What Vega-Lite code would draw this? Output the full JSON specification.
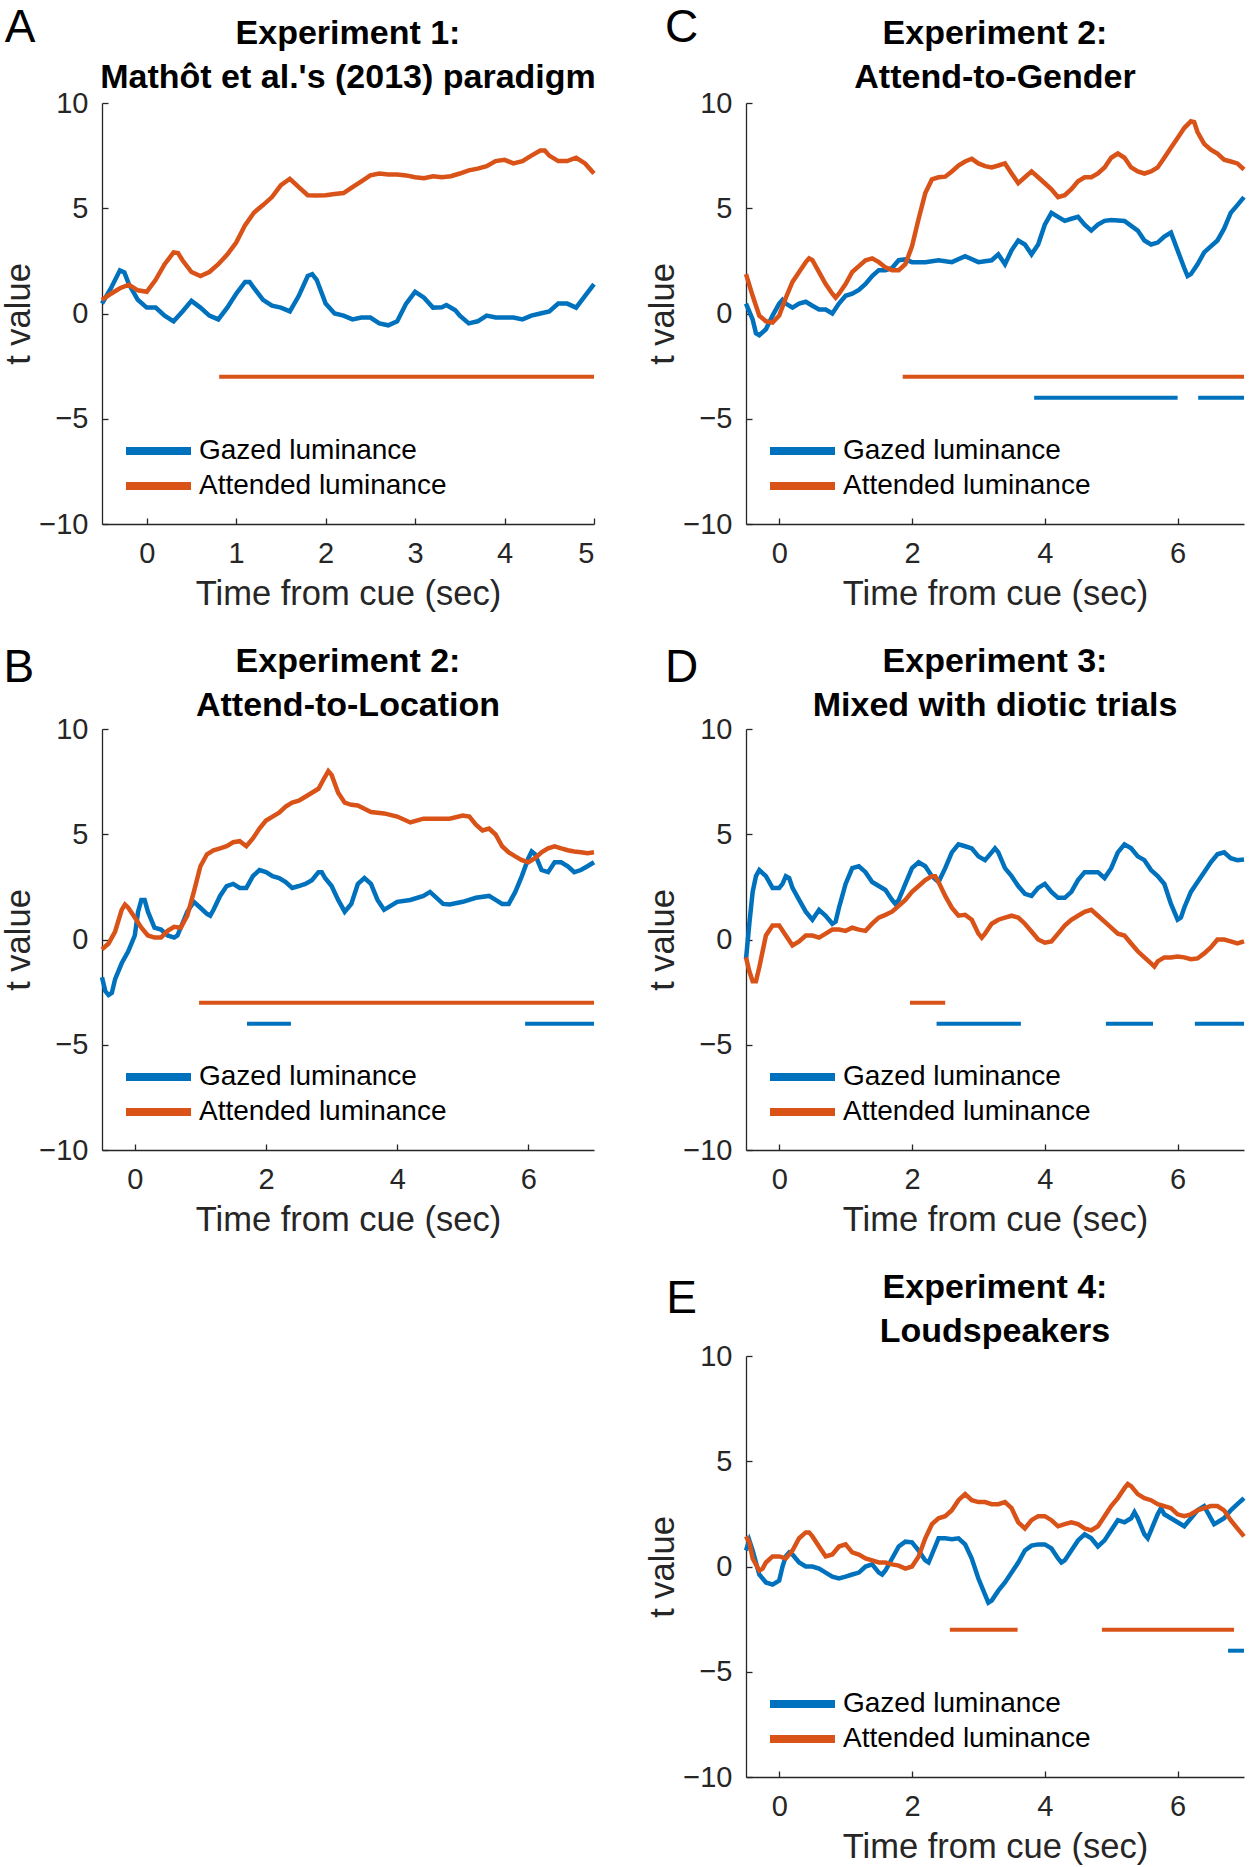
{
  "$schema": "https://vega.github.io/schema/vega-lite/v6.json",
  "padding": {"left": 1, "top": 4, "right": 3, "bottom": 3},
  "background": "white",
  "datasets": {
    "lines": [
      {"panel":"A","series":"Gazed luminance","time":-0.5,"tval":0.47},{"panel":"A","series":"Gazed luminance","time":-0.4,"tval":1.2},{"panel":"A","series":"Gazed luminance","time":-0.3,"tval":2.05},{"panel":"A","series":"Gazed luminance","time":-0.25,"tval":1.95},{"panel":"A","series":"Gazed luminance","time":-0.2,"tval":1.4},{"panel":"A","series":"Gazed luminance","time":-0.1,"tval":0.65},{"panel":"A","series":"Gazed luminance","time":0,"tval":0.28},{"panel":"A","series":"Gazed luminance","time":0.1,"tval":0.28},{"panel":"A","series":"Gazed luminance","time":0.2,"tval":-0.1},{"panel":"A","series":"Gazed luminance","time":0.3,"tval":-0.37},{"panel":"A","series":"Gazed luminance","time":0.4,"tval":0.1},{"panel":"A","series":"Gazed luminance","time":0.5,"tval":0.6},{"panel":"A","series":"Gazed luminance","time":0.6,"tval":0.28},{"panel":"A","series":"Gazed luminance","time":0.7,"tval":-0.1},{"panel":"A","series":"Gazed luminance","time":0.8,"tval":-0.28},{"panel":"A","series":"Gazed luminance","time":0.9,"tval":0.28},{"panel":"A","series":"Gazed luminance","time":1.0,"tval":0.94},{"panel":"A","series":"Gazed luminance","time":1.1,"tval":1.5},{"panel":"A","series":"Gazed luminance","time":1.15,"tval":1.5},{"panel":"A","series":"Gazed luminance","time":1.2,"tval":1.2},{"panel":"A","series":"Gazed luminance","time":1.3,"tval":0.65},{"panel":"A","series":"Gazed luminance","time":1.4,"tval":0.37},{"panel":"A","series":"Gazed luminance","time":1.5,"tval":0.28},{"panel":"A","series":"Gazed luminance","time":1.6,"tval":0.1},{"panel":"A","series":"Gazed luminance","time":1.7,"tval":0.84},{"panel":"A","series":"Gazed luminance","time":1.8,"tval":1.78},{"panel":"A","series":"Gazed luminance","time":1.85,"tval":1.87},{"panel":"A","series":"Gazed luminance","time":1.9,"tval":1.6},{"panel":"A","series":"Gazed luminance","time":2.0,"tval":0.47},{"panel":"A","series":"Gazed luminance","time":2.1,"tval":0},{"panel":"A","series":"Gazed luminance","time":2.2,"tval":-0.1},{"panel":"A","series":"Gazed luminance","time":2.3,"tval":-0.28},{"panel":"A","series":"Gazed luminance","time":2.4,"tval":-0.19},{"panel":"A","series":"Gazed luminance","time":2.5,"tval":-0.19},{"panel":"A","series":"Gazed luminance","time":2.6,"tval":-0.47},{"panel":"A","series":"Gazed luminance","time":2.7,"tval":-0.56},{"panel":"A","series":"Gazed luminance","time":2.8,"tval":-0.37},{"panel":"A","series":"Gazed luminance","time":2.9,"tval":0.47},{"panel":"A","series":"Gazed luminance","time":3.0,"tval":1.03},{"panel":"A","series":"Gazed luminance","time":3.1,"tval":0.75},{"panel":"A","series":"Gazed luminance","time":3.2,"tval":0.28},{"panel":"A","series":"Gazed luminance","time":3.3,"tval":0.3},{"panel":"A","series":"Gazed luminance","time":3.35,"tval":0.4},{"panel":"A","series":"Gazed luminance","time":3.45,"tval":0.15},{"panel":"A","series":"Gazed luminance","time":3.5,"tval":-0.1},{"panel":"A","series":"Gazed luminance","time":3.6,"tval":-0.47},{"panel":"A","series":"Gazed luminance","time":3.7,"tval":-0.37},{"panel":"A","series":"Gazed luminance","time":3.8,"tval":-0.1},{"panel":"A","series":"Gazed luminance","time":3.9,"tval":-0.19},{"panel":"A","series":"Gazed luminance","time":4.0,"tval":-0.19},{"panel":"A","series":"Gazed luminance","time":4.1,"tval":-0.19},{"panel":"A","series":"Gazed luminance","time":4.2,"tval":-0.28},{"panel":"A","series":"Gazed luminance","time":4.3,"tval":-0.1},{"panel":"A","series":"Gazed luminance","time":4.4,"tval":0},{"panel":"A","series":"Gazed luminance","time":4.5,"tval":0.1},{"panel":"A","series":"Gazed luminance","time":4.6,"tval":0.47},{"panel":"A","series":"Gazed luminance","time":4.7,"tval":0.47},{"panel":"A","series":"Gazed luminance","time":4.8,"tval":0.28},{"panel":"A","series":"Gazed luminance","time":4.9,"tval":0.84},{"panel":"A","series":"Gazed luminance","time":5.0,"tval":1.4},
      {"panel":"A","series":"Attended luminance","time":-0.5,"tval":0.65},{"panel":"A","series":"Attended luminance","time":-0.4,"tval":0.94},{"panel":"A","series":"Attended luminance","time":-0.3,"tval":1.2},{"panel":"A","series":"Attended luminance","time":-0.2,"tval":1.37},{"panel":"A","series":"Attended luminance","time":-0.1,"tval":1.1},{"panel":"A","series":"Attended luminance","time":0,"tval":1.03},{"panel":"A","series":"Attended luminance","time":0.1,"tval":1.6},{"panel":"A","series":"Attended luminance","time":0.2,"tval":2.34},{"panel":"A","series":"Attended luminance","time":0.3,"tval":2.9},{"panel":"A","series":"Attended luminance","time":0.35,"tval":2.87},{"panel":"A","series":"Attended luminance","time":0.4,"tval":2.53},{"panel":"A","series":"Attended luminance","time":0.5,"tval":1.97},{"panel":"A","series":"Attended luminance","time":0.6,"tval":1.78},{"panel":"A","series":"Attended luminance","time":0.7,"tval":1.97},{"panel":"A","series":"Attended luminance","time":0.8,"tval":2.34},{"panel":"A","series":"Attended luminance","time":0.9,"tval":2.8},{"panel":"A","series":"Attended luminance","time":1.0,"tval":3.37},{"panel":"A","series":"Attended luminance","time":1.1,"tval":4.2},{"panel":"A","series":"Attended luminance","time":1.2,"tval":4.8},{"panel":"A","series":"Attended luminance","time":1.3,"tval":5.15},{"panel":"A","series":"Attended luminance","time":1.4,"tval":5.53},{"panel":"A","series":"Attended luminance","time":1.5,"tval":6.1},{"panel":"A","series":"Attended luminance","time":1.6,"tval":6.4},{"panel":"A","series":"Attended luminance","time":1.7,"tval":6.0},{"panel":"A","series":"Attended luminance","time":1.8,"tval":5.62},{"panel":"A","series":"Attended luminance","time":1.9,"tval":5.6},{"panel":"A","series":"Attended luminance","time":2.0,"tval":5.62},{"panel":"A","series":"Attended luminance","time":2.1,"tval":5.68},{"panel":"A","series":"Attended luminance","time":2.2,"tval":5.72},{"panel":"A","series":"Attended luminance","time":2.3,"tval":6.0},{"panel":"A","series":"Attended luminance","time":2.4,"tval":6.28},{"panel":"A","series":"Attended luminance","time":2.5,"tval":6.56},{"panel":"A","series":"Attended luminance","time":2.6,"tval":6.65},{"panel":"A","series":"Attended luminance","time":2.7,"tval":6.6},{"panel":"A","series":"Attended luminance","time":2.8,"tval":6.6},{"panel":"A","series":"Attended luminance","time":2.9,"tval":6.56},{"panel":"A","series":"Attended luminance","time":3.0,"tval":6.47},{"panel":"A","series":"Attended luminance","time":3.1,"tval":6.43},{"panel":"A","series":"Attended luminance","time":3.2,"tval":6.52},{"panel":"A","series":"Attended luminance","time":3.3,"tval":6.47},{"panel":"A","series":"Attended luminance","time":3.4,"tval":6.52},{"panel":"A","series":"Attended luminance","time":3.5,"tval":6.65},{"panel":"A","series":"Attended luminance","time":3.6,"tval":6.8},{"panel":"A","series":"Attended luminance","time":3.7,"tval":6.88},{"panel":"A","series":"Attended luminance","time":3.8,"tval":7.0},{"panel":"A","series":"Attended luminance","time":3.9,"tval":7.24},{"panel":"A","series":"Attended luminance","time":4.0,"tval":7.3},{"panel":"A","series":"Attended luminance","time":4.1,"tval":7.13},{"panel":"A","series":"Attended luminance","time":4.2,"tval":7.24},{"panel":"A","series":"Attended luminance","time":4.3,"tval":7.5},{"panel":"A","series":"Attended luminance","time":4.4,"tval":7.74},{"panel":"A","series":"Attended luminance","time":4.45,"tval":7.74},{"panel":"A","series":"Attended luminance","time":4.5,"tval":7.5},{"panel":"A","series":"Attended luminance","time":4.6,"tval":7.24},{"panel":"A","series":"Attended luminance","time":4.7,"tval":7.24},{"panel":"A","series":"Attended luminance","time":4.8,"tval":7.4},{"panel":"A","series":"Attended luminance","time":4.9,"tval":7.13},{"panel":"A","series":"Attended luminance","time":5.0,"tval":6.65},

      {"panel":"B","series":"Gazed luminance","time":-0.5,"tval":-1.79},{"panel":"B","series":"Gazed luminance","time":-0.45,"tval":-2.45},{"panel":"B","series":"Gazed luminance","time":-0.4,"tval":-2.64},{"panel":"B","series":"Gazed luminance","time":-0.35,"tval":-2.54},{"panel":"B","series":"Gazed luminance","time":-0.3,"tval":-1.88},{"panel":"B","series":"Gazed luminance","time":-0.2,"tval":-1.13},{"panel":"B","series":"Gazed luminance","time":-0.1,"tval":-0.56},{"panel":"B","series":"Gazed luminance","time":0,"tval":0.19},{"panel":"B","series":"Gazed luminance","time":0.05,"tval":1.32},{"panel":"B","series":"Gazed luminance","time":0.1,"tval":1.88},{"panel":"B","series":"Gazed luminance","time":0.15,"tval":1.88},{"panel":"B","series":"Gazed luminance","time":0.2,"tval":1.32},{"panel":"B","series":"Gazed luminance","time":0.3,"tval":0.56},{"panel":"B","series":"Gazed luminance","time":0.4,"tval":0.47},{"panel":"B","series":"Gazed luminance","time":0.5,"tval":0.19},{"panel":"B","series":"Gazed luminance","time":0.6,"tval":0.09},{"panel":"B","series":"Gazed luminance","time":0.65,"tval":0.19},{"panel":"B","series":"Gazed luminance","time":0.7,"tval":0.56},{"panel":"B","series":"Gazed luminance","time":0.8,"tval":1.32},{"panel":"B","series":"Gazed luminance","time":0.9,"tval":1.79},{"panel":"B","series":"Gazed luminance","time":1.0,"tval":1.51},{"panel":"B","series":"Gazed luminance","time":1.1,"tval":1.22},{"panel":"B","series":"Gazed luminance","time":1.15,"tval":1.13},{"panel":"B","series":"Gazed luminance","time":1.2,"tval":1.41},{"panel":"B","series":"Gazed luminance","time":1.3,"tval":2.07},{"panel":"B","series":"Gazed luminance","time":1.4,"tval":2.54},{"panel":"B","series":"Gazed luminance","time":1.5,"tval":2.64},{"panel":"B","series":"Gazed luminance","time":1.6,"tval":2.45},{"panel":"B","series":"Gazed luminance","time":1.7,"tval":2.45},{"panel":"B","series":"Gazed luminance","time":1.8,"tval":3.01},{"panel":"B","series":"Gazed luminance","time":1.9,"tval":3.3},{"panel":"B","series":"Gazed luminance","time":2.0,"tval":3.2},{"panel":"B","series":"Gazed luminance","time":2.1,"tval":3.01},{"panel":"B","series":"Gazed luminance","time":2.2,"tval":2.92},{"panel":"B","series":"Gazed luminance","time":2.3,"tval":2.73},{"panel":"B","series":"Gazed luminance","time":2.4,"tval":2.45},{"panel":"B","series":"Gazed luminance","time":2.5,"tval":2.54},{"panel":"B","series":"Gazed luminance","time":2.6,"tval":2.64},{"panel":"B","series":"Gazed luminance","time":2.7,"tval":2.82},{"panel":"B","series":"Gazed luminance","time":2.8,"tval":3.2},{"panel":"B","series":"Gazed luminance","time":2.85,"tval":3.2},{"panel":"B","series":"Gazed luminance","time":2.9,"tval":2.92},{"panel":"B","series":"Gazed luminance","time":3.0,"tval":2.54},{"panel":"B","series":"Gazed luminance","time":3.1,"tval":1.88},{"panel":"B","series":"Gazed luminance","time":3.2,"tval":1.32},{"panel":"B","series":"Gazed luminance","time":3.3,"tval":1.69},{"panel":"B","series":"Gazed luminance","time":3.4,"tval":2.64},{"panel":"B","series":"Gazed luminance","time":3.5,"tval":2.92},{"panel":"B","series":"Gazed luminance","time":3.6,"tval":2.64},{"panel":"B","series":"Gazed luminance","time":3.7,"tval":1.88},{"panel":"B","series":"Gazed luminance","time":3.8,"tval":1.41},{"panel":"B","series":"Gazed luminance","time":3.9,"tval":1.6},{"panel":"B","series":"Gazed luminance","time":4.0,"tval":1.79},{"panel":"B","series":"Gazed luminance","time":4.2,"tval":1.88},{"panel":"B","series":"Gazed luminance","time":4.4,"tval":2.07},{"panel":"B","series":"Gazed luminance","time":4.5,"tval":2.26},{"panel":"B","series":"Gazed luminance","time":4.6,"tval":1.98},{"panel":"B","series":"Gazed luminance","time":4.7,"tval":1.69},{"panel":"B","series":"Gazed luminance","time":4.8,"tval":1.66},{"panel":"B","series":"Gazed luminance","time":5.0,"tval":1.79},{"panel":"B","series":"Gazed luminance","time":5.2,"tval":1.98},{"panel":"B","series":"Gazed luminance","time":5.4,"tval":2.07},{"panel":"B","series":"Gazed luminance","time":5.5,"tval":1.88},{"panel":"B","series":"Gazed luminance","time":5.6,"tval":1.69},{"panel":"B","series":"Gazed luminance","time":5.7,"tval":1.69},{"panel":"B","series":"Gazed luminance","time":5.8,"tval":2.26},{"panel":"B","series":"Gazed luminance","time":5.9,"tval":3.01},{"panel":"B","series":"Gazed luminance","time":6.0,"tval":3.86},{"panel":"B","series":"Gazed luminance","time":6.05,"tval":4.18},{"panel":"B","series":"Gazed luminance","time":6.1,"tval":4.05},{"panel":"B","series":"Gazed luminance","time":6.2,"tval":3.3},{"panel":"B","series":"Gazed luminance","time":6.3,"tval":3.2},{"panel":"B","series":"Gazed luminance","time":6.4,"tval":3.67},{"panel":"B","series":"Gazed luminance","time":6.5,"tval":3.67},{"panel":"B","series":"Gazed luminance","time":6.6,"tval":3.48},{"panel":"B","series":"Gazed luminance","time":6.7,"tval":3.2},{"panel":"B","series":"Gazed luminance","time":6.8,"tval":3.3},{"panel":"B","series":"Gazed luminance","time":6.9,"tval":3.48},{"panel":"B","series":"Gazed luminance","time":7.0,"tval":3.67},
      {"panel":"B","series":"Attended luminance","time":-0.5,"tval":-0.47},{"panel":"B","series":"Attended luminance","time":-0.4,"tval":-0.19},{"panel":"B","series":"Attended luminance","time":-0.3,"tval":0.38},{"panel":"B","series":"Attended luminance","time":-0.2,"tval":1.41},{"panel":"B","series":"Attended luminance","time":-0.15,"tval":1.66},{"panel":"B","series":"Attended luminance","time":-0.1,"tval":1.51},{"panel":"B","series":"Attended luminance","time":0,"tval":1.04},{"panel":"B","series":"Attended luminance","time":0.1,"tval":0.56},{"panel":"B","series":"Attended luminance","time":0.2,"tval":0.19},{"panel":"B","series":"Attended luminance","time":0.3,"tval":0.09},{"panel":"B","series":"Attended luminance","time":0.4,"tval":0.09},{"panel":"B","series":"Attended luminance","time":0.5,"tval":0.41},{"panel":"B","series":"Attended luminance","time":0.6,"tval":0.6},{"panel":"B","series":"Attended luminance","time":0.7,"tval":0.56},{"panel":"B","series":"Attended luminance","time":0.8,"tval":1.13},{"panel":"B","series":"Attended luminance","time":0.9,"tval":2.26},{"panel":"B","series":"Attended luminance","time":1.0,"tval":3.48},{"panel":"B","series":"Attended luminance","time":1.1,"tval":4.05},{"panel":"B","series":"Attended luminance","time":1.2,"tval":4.24},{"panel":"B","series":"Attended luminance","time":1.3,"tval":4.33},{"panel":"B","series":"Attended luminance","time":1.4,"tval":4.43},{"panel":"B","series":"Attended luminance","time":1.5,"tval":4.62},{"panel":"B","series":"Attended luminance","time":1.6,"tval":4.67},{"panel":"B","series":"Attended luminance","time":1.7,"tval":4.43},{"panel":"B","series":"Attended luminance","time":1.8,"tval":4.8},{"panel":"B","series":"Attended luminance","time":1.9,"tval":5.27},{"panel":"B","series":"Attended luminance","time":2.0,"tval":5.65},{"panel":"B","series":"Attended luminance","time":2.1,"tval":5.84},{"panel":"B","series":"Attended luminance","time":2.2,"tval":6.03},{"panel":"B","series":"Attended luminance","time":2.3,"tval":6.31},{"panel":"B","series":"Attended luminance","time":2.4,"tval":6.5},{"panel":"B","series":"Attended luminance","time":2.5,"tval":6.59},{"panel":"B","series":"Attended luminance","time":2.6,"tval":6.78},{"panel":"B","series":"Attended luminance","time":2.7,"tval":6.97},{"panel":"B","series":"Attended luminance","time":2.8,"tval":7.16},{"panel":"B","series":"Attended luminance","time":2.9,"tval":7.73},{"panel":"B","series":"Attended luminance","time":2.95,"tval":8.0},{"panel":"B","series":"Attended luminance","time":3.0,"tval":7.82},{"panel":"B","series":"Attended luminance","time":3.1,"tval":6.97},{"panel":"B","series":"Attended luminance","time":3.2,"tval":6.5},{"panel":"B","series":"Attended luminance","time":3.3,"tval":6.4},{"panel":"B","series":"Attended luminance","time":3.4,"tval":6.37},{"panel":"B","series":"Attended luminance","time":3.5,"tval":6.21},{"panel":"B","series":"Attended luminance","time":3.6,"tval":6.06},{"panel":"B","series":"Attended luminance","time":3.8,"tval":5.99},{"panel":"B","series":"Attended luminance","time":4.0,"tval":5.84},{"panel":"B","series":"Attended luminance","time":4.2,"tval":5.56},{"panel":"B","series":"Attended luminance","time":4.4,"tval":5.74},{"panel":"B","series":"Attended luminance","time":4.6,"tval":5.74},{"panel":"B","series":"Attended luminance","time":4.8,"tval":5.74},{"panel":"B","series":"Attended luminance","time":5.0,"tval":5.89},{"panel":"B","series":"Attended luminance","time":5.1,"tval":5.84},{"panel":"B","series":"Attended luminance","time":5.2,"tval":5.46},{"panel":"B","series":"Attended luminance","time":5.3,"tval":5.18},{"panel":"B","series":"Attended luminance","time":5.4,"tval":5.27},{"panel":"B","series":"Attended luminance","time":5.5,"tval":4.99},{"panel":"B","series":"Attended luminance","time":5.6,"tval":4.43},{"panel":"B","series":"Attended luminance","time":5.7,"tval":4.14},{"panel":"B","series":"Attended luminance","time":5.8,"tval":3.95},{"panel":"B","series":"Attended luminance","time":5.9,"tval":3.77},{"panel":"B","series":"Attended luminance","time":6.0,"tval":3.67},{"panel":"B","series":"Attended luminance","time":6.1,"tval":3.86},{"panel":"B","series":"Attended luminance","time":6.2,"tval":4.14},{"panel":"B","series":"Attended luminance","time":6.3,"tval":4.33},{"panel":"B","series":"Attended luminance","time":6.4,"tval":4.43},{"panel":"B","series":"Attended luminance","time":6.5,"tval":4.33},{"panel":"B","series":"Attended luminance","time":6.6,"tval":4.24},{"panel":"B","series":"Attended luminance","time":6.7,"tval":4.18},{"panel":"B","series":"Attended luminance","time":6.8,"tval":4.14},{"panel":"B","series":"Attended luminance","time":6.9,"tval":4.1},{"panel":"B","series":"Attended luminance","time":7.0,"tval":4.14},

      {"panel":"C","series":"Gazed luminance","time":-0.5,"tval":0.47},{"panel":"C","series":"Gazed luminance","time":-0.4,"tval":-0.28},{"panel":"C","series":"Gazed luminance","time":-0.35,"tval":-0.94},{"panel":"C","series":"Gazed luminance","time":-0.3,"tval":-1.03},{"panel":"C","series":"Gazed luminance","time":-0.2,"tval":-0.75},{"panel":"C","series":"Gazed luminance","time":-0.1,"tval":-0.1},{"panel":"C","series":"Gazed luminance","time":0,"tval":0.47},{"panel":"C","series":"Gazed luminance","time":0.05,"tval":0.65},{"panel":"C","series":"Gazed luminance","time":0.1,"tval":0.47},{"panel":"C","series":"Gazed luminance","time":0.2,"tval":0.28},{"panel":"C","series":"Gazed luminance","time":0.3,"tval":0.47},{"panel":"C","series":"Gazed luminance","time":0.4,"tval":0.56},{"panel":"C","series":"Gazed luminance","time":0.5,"tval":0.37},{"panel":"C","series":"Gazed luminance","time":0.6,"tval":0.19},{"panel":"C","series":"Gazed luminance","time":0.7,"tval":0.19},{"panel":"C","series":"Gazed luminance","time":0.8,"tval":0},{"panel":"C","series":"Gazed luminance","time":0.9,"tval":0.47},{"panel":"C","series":"Gazed luminance","time":1.0,"tval":0.84},{"panel":"C","series":"Gazed luminance","time":1.1,"tval":0.94},{"panel":"C","series":"Gazed luminance","time":1.2,"tval":1.12},{"panel":"C","series":"Gazed luminance","time":1.3,"tval":1.4},{"panel":"C","series":"Gazed luminance","time":1.4,"tval":1.78},{"panel":"C","series":"Gazed luminance","time":1.5,"tval":2.06},{"panel":"C","series":"Gazed luminance","time":1.6,"tval":2.06},{"panel":"C","series":"Gazed luminance","time":1.7,"tval":2.16},{"panel":"C","series":"Gazed luminance","time":1.8,"tval":2.53},{"panel":"C","series":"Gazed luminance","time":1.9,"tval":2.57},{"panel":"C","series":"Gazed luminance","time":2.0,"tval":2.44},{"panel":"C","series":"Gazed luminance","time":2.2,"tval":2.44},{"panel":"C","series":"Gazed luminance","time":2.4,"tval":2.53},{"panel":"C","series":"Gazed luminance","time":2.6,"tval":2.44},{"panel":"C","series":"Gazed luminance","time":2.8,"tval":2.72},{"panel":"C","series":"Gazed luminance","time":3.0,"tval":2.44},{"panel":"C","series":"Gazed luminance","time":3.2,"tval":2.53},{"panel":"C","series":"Gazed luminance","time":3.3,"tval":2.81},{"panel":"C","series":"Gazed luminance","time":3.4,"tval":2.34},{"panel":"C","series":"Gazed luminance","time":3.5,"tval":3.0},{"panel":"C","series":"Gazed luminance","time":3.6,"tval":3.47},{"panel":"C","series":"Gazed luminance","time":3.7,"tval":3.28},{"panel":"C","series":"Gazed luminance","time":3.8,"tval":2.81},{"panel":"C","series":"Gazed luminance","time":3.9,"tval":3.28},{"panel":"C","series":"Gazed luminance","time":4.0,"tval":4.22},{"panel":"C","series":"Gazed luminance","time":4.1,"tval":4.78},{"panel":"C","series":"Gazed luminance","time":4.2,"tval":4.59},{"panel":"C","series":"Gazed luminance","time":4.3,"tval":4.4},{"panel":"C","series":"Gazed luminance","time":4.4,"tval":4.5},{"panel":"C","series":"Gazed luminance","time":4.5,"tval":4.59},{"panel":"C","series":"Gazed luminance","time":4.6,"tval":4.22},{"panel":"C","series":"Gazed luminance","time":4.7,"tval":3.94},{"panel":"C","series":"Gazed luminance","time":4.8,"tval":4.22},{"panel":"C","series":"Gazed luminance","time":4.9,"tval":4.4},{"panel":"C","series":"Gazed luminance","time":5.0,"tval":4.44},{"panel":"C","series":"Gazed luminance","time":5.2,"tval":4.4},{"panel":"C","series":"Gazed luminance","time":5.4,"tval":3.94},{"panel":"C","series":"Gazed luminance","time":5.5,"tval":3.47},{"panel":"C","series":"Gazed luminance","time":5.6,"tval":3.28},{"panel":"C","series":"Gazed luminance","time":5.7,"tval":3.37},{"panel":"C","series":"Gazed luminance","time":5.8,"tval":3.65},{"panel":"C","series":"Gazed luminance","time":5.9,"tval":3.84},{"panel":"C","series":"Gazed luminance","time":6.0,"tval":3.0},{"panel":"C","series":"Gazed luminance","time":6.1,"tval":2.16},{"panel":"C","series":"Gazed luminance","time":6.15,"tval":1.78},{"panel":"C","series":"Gazed luminance","time":6.2,"tval":1.87},{"panel":"C","series":"Gazed luminance","time":6.3,"tval":2.34},{"panel":"C","series":"Gazed luminance","time":6.4,"tval":2.9},{"panel":"C","series":"Gazed luminance","time":6.5,"tval":3.19},{"panel":"C","series":"Gazed luminance","time":6.6,"tval":3.47},{"panel":"C","series":"Gazed luminance","time":6.7,"tval":4.03},{"panel":"C","series":"Gazed luminance","time":6.8,"tval":4.78},{"panel":"C","series":"Gazed luminance","time":6.9,"tval":5.15},{"panel":"C","series":"Gazed luminance","time":7.0,"tval":5.53},
      {"panel":"C","series":"Attended luminance","time":-0.5,"tval":1.87},{"panel":"C","series":"Attended luminance","time":-0.4,"tval":0.84},{"panel":"C","series":"Attended luminance","time":-0.3,"tval":-0.1},{"panel":"C","series":"Attended luminance","time":-0.2,"tval":-0.37},{"panel":"C","series":"Attended luminance","time":-0.1,"tval":-0.43},{"panel":"C","series":"Attended luminance","time":0,"tval":-0.1},{"panel":"C","series":"Attended luminance","time":0.1,"tval":0.75},{"panel":"C","series":"Attended luminance","time":0.2,"tval":1.5},{"panel":"C","series":"Attended luminance","time":0.3,"tval":1.97},{"panel":"C","series":"Attended luminance","time":0.4,"tval":2.44},{"panel":"C","series":"Attended luminance","time":0.45,"tval":2.62},{"panel":"C","series":"Attended luminance","time":0.5,"tval":2.53},{"panel":"C","series":"Attended luminance","time":0.6,"tval":1.97},{"panel":"C","series":"Attended luminance","time":0.7,"tval":1.4},{"panel":"C","series":"Attended luminance","time":0.8,"tval":0.94},{"panel":"C","series":"Attended luminance","time":0.85,"tval":0.75},{"panel":"C","series":"Attended luminance","time":0.9,"tval":0.94},{"panel":"C","series":"Attended luminance","time":1.0,"tval":1.4},{"panel":"C","series":"Attended luminance","time":1.1,"tval":1.97},{"panel":"C","series":"Attended luminance","time":1.2,"tval":2.25},{"panel":"C","series":"Attended luminance","time":1.3,"tval":2.53},{"panel":"C","series":"Attended luminance","time":1.4,"tval":2.62},{"panel":"C","series":"Attended luminance","time":1.5,"tval":2.44},{"panel":"C","series":"Attended luminance","time":1.6,"tval":2.19},{"panel":"C","series":"Attended luminance","time":1.7,"tval":2.06},{"panel":"C","series":"Attended luminance","time":1.8,"tval":2.06},{"panel":"C","series":"Attended luminance","time":1.9,"tval":2.34},{"panel":"C","series":"Attended luminance","time":2.0,"tval":3.19},{"panel":"C","series":"Attended luminance","time":2.1,"tval":4.5},{"panel":"C","series":"Attended luminance","time":2.2,"tval":5.72},{"panel":"C","series":"Attended luminance","time":2.3,"tval":6.37},{"panel":"C","series":"Attended luminance","time":2.4,"tval":6.47},{"panel":"C","series":"Attended luminance","time":2.5,"tval":6.5},{"panel":"C","series":"Attended luminance","time":2.6,"tval":6.75},{"panel":"C","series":"Attended luminance","time":2.7,"tval":7.03},{"panel":"C","series":"Attended luminance","time":2.8,"tval":7.22},{"panel":"C","series":"Attended luminance","time":2.9,"tval":7.35},{"panel":"C","series":"Attended luminance","time":3.0,"tval":7.13},{"panel":"C","series":"Attended luminance","time":3.1,"tval":7.0},{"panel":"C","series":"Attended luminance","time":3.2,"tval":6.94},{"panel":"C","series":"Attended luminance","time":3.3,"tval":7.03},{"panel":"C","series":"Attended luminance","time":3.4,"tval":7.13},{"panel":"C","series":"Attended luminance","time":3.5,"tval":6.65},{"panel":"C","series":"Attended luminance","time":3.6,"tval":6.19},{"panel":"C","series":"Attended luminance","time":3.7,"tval":6.47},{"panel":"C","series":"Attended luminance","time":3.8,"tval":6.75},{"panel":"C","series":"Attended luminance","time":3.9,"tval":6.47},{"panel":"C","series":"Attended luminance","time":4.0,"tval":6.19},{"panel":"C","series":"Attended luminance","time":4.1,"tval":5.9},{"panel":"C","series":"Attended luminance","time":4.2,"tval":5.53},{"panel":"C","series":"Attended luminance","time":4.3,"tval":5.62},{"panel":"C","series":"Attended luminance","time":4.4,"tval":5.9},{"panel":"C","series":"Attended luminance","time":4.5,"tval":6.28},{"panel":"C","series":"Attended luminance","time":4.6,"tval":6.47},{"panel":"C","series":"Attended luminance","time":4.7,"tval":6.47},{"panel":"C","series":"Attended luminance","time":4.8,"tval":6.65},{"panel":"C","series":"Attended luminance","time":4.9,"tval":6.94},{"panel":"C","series":"Attended luminance","time":5.0,"tval":7.4},{"panel":"C","series":"Attended luminance","time":5.1,"tval":7.6},{"panel":"C","series":"Attended luminance","time":5.2,"tval":7.4},{"panel":"C","series":"Attended luminance","time":5.3,"tval":6.94},{"panel":"C","series":"Attended luminance","time":5.4,"tval":6.75},{"panel":"C","series":"Attended luminance","time":5.5,"tval":6.65},{"panel":"C","series":"Attended luminance","time":5.6,"tval":6.75},{"panel":"C","series":"Attended luminance","time":5.7,"tval":6.94},{"panel":"C","series":"Attended luminance","time":5.8,"tval":7.4},{"panel":"C","series":"Attended luminance","time":5.9,"tval":7.87},{"panel":"C","series":"Attended luminance","time":6.0,"tval":8.34},{"panel":"C","series":"Attended luminance","time":6.1,"tval":8.81},{"panel":"C","series":"Attended luminance","time":6.2,"tval":9.13},{"panel":"C","series":"Attended luminance","time":6.25,"tval":9.09},{"panel":"C","series":"Attended luminance","time":6.3,"tval":8.62},{"panel":"C","series":"Attended luminance","time":6.4,"tval":8.06},{"panel":"C","series":"Attended luminance","time":6.5,"tval":7.78},{"panel":"C","series":"Attended luminance","time":6.6,"tval":7.6},{"panel":"C","series":"Attended luminance","time":6.7,"tval":7.31},{"panel":"C","series":"Attended luminance","time":6.8,"tval":7.22},{"panel":"C","series":"Attended luminance","time":6.9,"tval":7.13},{"panel":"C","series":"Attended luminance","time":7.0,"tval":6.84},

      {"panel":"D","series":"Gazed luminance","time":-0.5,"tval":-0.94},{"panel":"D","series":"Gazed luminance","time":-0.45,"tval":0.75},{"panel":"D","series":"Gazed luminance","time":-0.4,"tval":2.26},{"panel":"D","series":"Gazed luminance","time":-0.35,"tval":3.01},{"panel":"D","series":"Gazed luminance","time":-0.3,"tval":3.3},{"panel":"D","series":"Gazed luminance","time":-0.2,"tval":3.01},{"panel":"D","series":"Gazed luminance","time":-0.1,"tval":2.45},{"panel":"D","series":"Gazed luminance","time":0,"tval":2.45},{"panel":"D","series":"Gazed luminance","time":0.05,"tval":2.64},{"panel":"D","series":"Gazed luminance","time":0.1,"tval":3.01},{"panel":"D","series":"Gazed luminance","time":0.15,"tval":2.92},{"panel":"D","series":"Gazed luminance","time":0.2,"tval":2.45},{"panel":"D","series":"Gazed luminance","time":0.3,"tval":1.88},{"panel":"D","series":"Gazed luminance","time":0.4,"tval":1.32},{"panel":"D","series":"Gazed luminance","time":0.5,"tval":0.94},{"panel":"D","series":"Gazed luminance","time":0.6,"tval":1.41},{"panel":"D","series":"Gazed luminance","time":0.7,"tval":1.13},{"panel":"D","series":"Gazed luminance","time":0.8,"tval":0.75},{"panel":"D","series":"Gazed luminance","time":0.85,"tval":0.85},{"panel":"D","series":"Gazed luminance","time":0.9,"tval":1.51},{"panel":"D","series":"Gazed luminance","time":1.0,"tval":2.64},{"panel":"D","series":"Gazed luminance","time":1.1,"tval":3.39},{"panel":"D","series":"Gazed luminance","time":1.2,"tval":3.48},{"panel":"D","series":"Gazed luminance","time":1.3,"tval":3.2},{"panel":"D","series":"Gazed luminance","time":1.4,"tval":2.73},{"panel":"D","series":"Gazed luminance","time":1.5,"tval":2.54},{"panel":"D","series":"Gazed luminance","time":1.6,"tval":2.35},{"panel":"D","series":"Gazed luminance","time":1.7,"tval":1.88},{"panel":"D","series":"Gazed luminance","time":1.75,"tval":1.69},{"panel":"D","series":"Gazed luminance","time":1.8,"tval":1.88},{"panel":"D","series":"Gazed luminance","time":1.9,"tval":2.64},{"panel":"D","series":"Gazed luminance","time":2.0,"tval":3.39},{"panel":"D","series":"Gazed luminance","time":2.1,"tval":3.67},{"panel":"D","series":"Gazed luminance","time":2.2,"tval":3.48},{"panel":"D","series":"Gazed luminance","time":2.3,"tval":3.01},{"panel":"D","series":"Gazed luminance","time":2.4,"tval":2.73},{"panel":"D","series":"Gazed luminance","time":2.5,"tval":3.39},{"panel":"D","series":"Gazed luminance","time":2.6,"tval":4.14},{"panel":"D","series":"Gazed luminance","time":2.7,"tval":4.52},{"panel":"D","series":"Gazed luminance","time":2.8,"tval":4.43},{"panel":"D","series":"Gazed luminance","time":2.9,"tval":4.33},{"panel":"D","series":"Gazed luminance","time":3.0,"tval":3.95},{"panel":"D","series":"Gazed luminance","time":3.1,"tval":3.77},{"panel":"D","series":"Gazed luminance","time":3.2,"tval":4.14},{"panel":"D","series":"Gazed luminance","time":3.25,"tval":4.33},{"panel":"D","series":"Gazed luminance","time":3.3,"tval":4.14},{"panel":"D","series":"Gazed luminance","time":3.4,"tval":3.39},{"panel":"D","series":"Gazed luminance","time":3.5,"tval":3.01},{"panel":"D","series":"Gazed luminance","time":3.6,"tval":2.54},{"panel":"D","series":"Gazed luminance","time":3.7,"tval":2.17},{"panel":"D","series":"Gazed luminance","time":3.8,"tval":2.07},{"panel":"D","series":"Gazed luminance","time":3.9,"tval":2.45},{"panel":"D","series":"Gazed luminance","time":4.0,"tval":2.64},{"panel":"D","series":"Gazed luminance","time":4.1,"tval":2.26},{"panel":"D","series":"Gazed luminance","time":4.2,"tval":1.98},{"panel":"D","series":"Gazed luminance","time":4.3,"tval":1.98},{"panel":"D","series":"Gazed luminance","time":4.4,"tval":2.26},{"panel":"D","series":"Gazed luminance","time":4.5,"tval":2.82},{"panel":"D","series":"Gazed luminance","time":4.6,"tval":3.2},{"panel":"D","series":"Gazed luminance","time":4.7,"tval":3.2},{"panel":"D","series":"Gazed luminance","time":4.8,"tval":3.2},{"panel":"D","series":"Gazed luminance","time":4.9,"tval":2.92},{"panel":"D","series":"Gazed luminance","time":5.0,"tval":3.39},{"panel":"D","series":"Gazed luminance","time":5.1,"tval":4.14},{"panel":"D","series":"Gazed luminance","time":5.2,"tval":4.52},{"panel":"D","series":"Gazed luminance","time":5.3,"tval":4.33},{"panel":"D","series":"Gazed luminance","time":5.4,"tval":3.95},{"panel":"D","series":"Gazed luminance","time":5.5,"tval":3.77},{"panel":"D","series":"Gazed luminance","time":5.6,"tval":3.3},{"panel":"D","series":"Gazed luminance","time":5.7,"tval":3.01},{"panel":"D","series":"Gazed luminance","time":5.8,"tval":2.64},{"panel":"D","series":"Gazed luminance","time":5.9,"tval":1.69},{"panel":"D","series":"Gazed luminance","time":6.0,"tval":0.94},{"panel":"D","series":"Gazed luminance","time":6.05,"tval":1.04},{"panel":"D","series":"Gazed luminance","time":6.1,"tval":1.51},{"panel":"D","series":"Gazed luminance","time":6.2,"tval":2.26},{"panel":"D","series":"Gazed luminance","time":6.3,"tval":2.73},{"panel":"D","series":"Gazed luminance","time":6.4,"tval":3.2},{"panel":"D","series":"Gazed luminance","time":6.5,"tval":3.67},{"panel":"D","series":"Gazed luminance","time":6.6,"tval":4.05},{"panel":"D","series":"Gazed luminance","time":6.7,"tval":4.14},{"panel":"D","series":"Gazed luminance","time":6.8,"tval":3.86},{"panel":"D","series":"Gazed luminance","time":6.9,"tval":3.77},{"panel":"D","series":"Gazed luminance","time":7.0,"tval":3.8},
      {"panel":"D","series":"Attended luminance","time":-0.5,"tval":-0.85},{"panel":"D","series":"Attended luminance","time":-0.45,"tval":-1.51},{"panel":"D","series":"Attended luminance","time":-0.4,"tval":-1.98},{"panel":"D","series":"Attended luminance","time":-0.35,"tval":-1.98},{"panel":"D","series":"Attended luminance","time":-0.3,"tval":-1.32},{"panel":"D","series":"Attended luminance","time":-0.2,"tval":0.19},{"panel":"D","series":"Attended luminance","time":-0.1,"tval":0.66},{"panel":"D","series":"Attended luminance","time":0,"tval":0.66},{"panel":"D","series":"Attended luminance","time":0.1,"tval":0.19},{"panel":"D","series":"Attended luminance","time":0.2,"tval":-0.28},{"panel":"D","series":"Attended luminance","time":0.3,"tval":-0.09},{"panel":"D","series":"Attended luminance","time":0.4,"tval":0.19},{"panel":"D","series":"Attended luminance","time":0.5,"tval":0.19},{"panel":"D","series":"Attended luminance","time":0.6,"tval":0.09},{"panel":"D","series":"Attended luminance","time":0.7,"tval":0.28},{"panel":"D","series":"Attended luminance","time":0.8,"tval":0.47},{"panel":"D","series":"Attended luminance","time":0.9,"tval":0.47},{"panel":"D","series":"Attended luminance","time":1.0,"tval":0.41},{"panel":"D","series":"Attended luminance","time":1.1,"tval":0.56},{"panel":"D","series":"Attended luminance","time":1.2,"tval":0.47},{"panel":"D","series":"Attended luminance","time":1.3,"tval":0.41},{"panel":"D","series":"Attended luminance","time":1.4,"tval":0.75},{"panel":"D","series":"Attended luminance","time":1.5,"tval":1.04},{"panel":"D","series":"Attended luminance","time":1.6,"tval":1.17},{"panel":"D","series":"Attended luminance","time":1.7,"tval":1.32},{"panel":"D","series":"Attended luminance","time":1.8,"tval":1.6},{"panel":"D","series":"Attended luminance","time":1.9,"tval":1.88},{"panel":"D","series":"Attended luminance","time":2.0,"tval":2.26},{"panel":"D","series":"Attended luminance","time":2.1,"tval":2.54},{"panel":"D","series":"Attended luminance","time":2.2,"tval":2.82},{"panel":"D","series":"Attended luminance","time":2.3,"tval":3.01},{"panel":"D","series":"Attended luminance","time":2.35,"tval":3.01},{"panel":"D","series":"Attended luminance","time":2.4,"tval":2.73},{"panel":"D","series":"Attended luminance","time":2.5,"tval":2.07},{"panel":"D","series":"Attended luminance","time":2.6,"tval":1.51},{"panel":"D","series":"Attended luminance","time":2.7,"tval":1.13},{"panel":"D","series":"Attended luminance","time":2.8,"tval":1.17},{"panel":"D","series":"Attended luminance","time":2.9,"tval":0.94},{"panel":"D","series":"Attended luminance","time":3.0,"tval":0.28},{"panel":"D","series":"Attended luminance","time":3.05,"tval":0.09},{"panel":"D","series":"Attended luminance","time":3.1,"tval":0.28},{"panel":"D","series":"Attended luminance","time":3.2,"tval":0.75},{"panel":"D","series":"Attended luminance","time":3.3,"tval":0.94},{"panel":"D","series":"Attended luminance","time":3.4,"tval":1.04},{"panel":"D","series":"Attended luminance","time":3.5,"tval":1.13},{"panel":"D","series":"Attended luminance","time":3.6,"tval":1.04},{"panel":"D","series":"Attended luminance","time":3.7,"tval":0.75},{"panel":"D","series":"Attended luminance","time":3.8,"tval":0.38},{"panel":"D","series":"Attended luminance","time":3.9,"tval":0},{"panel":"D","series":"Attended luminance","time":4.0,"tval":-0.15},{"panel":"D","series":"Attended luminance","time":4.1,"tval":-0.09},{"panel":"D","series":"Attended luminance","time":4.2,"tval":0.28},{"panel":"D","series":"Attended luminance","time":4.3,"tval":0.66},{"panel":"D","series":"Attended luminance","time":4.4,"tval":0.94},{"panel":"D","series":"Attended luminance","time":4.5,"tval":1.13},{"panel":"D","series":"Attended luminance","time":4.6,"tval":1.32},{"panel":"D","series":"Attended luminance","time":4.7,"tval":1.41},{"panel":"D","series":"Attended luminance","time":4.8,"tval":1.13},{"panel":"D","series":"Attended luminance","time":4.9,"tval":0.85},{"panel":"D","series":"Attended luminance","time":5.0,"tval":0.56},{"panel":"D","series":"Attended luminance","time":5.1,"tval":0.28},{"panel":"D","series":"Attended luminance","time":5.2,"tval":0.19},{"panel":"D","series":"Attended luminance","time":5.3,"tval":-0.19},{"panel":"D","series":"Attended luminance","time":5.4,"tval":-0.56},{"panel":"D","series":"Attended luminance","time":5.5,"tval":-0.85},{"panel":"D","series":"Attended luminance","time":5.6,"tval":-1.13},{"panel":"D","series":"Attended luminance","time":5.65,"tval":-1.28},{"panel":"D","series":"Attended luminance","time":5.7,"tval":-1.04},{"panel":"D","series":"Attended luminance","time":5.8,"tval":-0.85},{"panel":"D","series":"Attended luminance","time":5.9,"tval":-0.85},{"panel":"D","series":"Attended luminance","time":6.0,"tval":-0.81},{"panel":"D","series":"Attended luminance","time":6.1,"tval":-0.85},{"panel":"D","series":"Attended luminance","time":6.2,"tval":-0.94},{"panel":"D","series":"Attended luminance","time":6.3,"tval":-0.9},{"panel":"D","series":"Attended luminance","time":6.4,"tval":-0.66},{"panel":"D","series":"Attended luminance","time":6.5,"tval":-0.38},{"panel":"D","series":"Attended luminance","time":6.6,"tval":0},{"panel":"D","series":"Attended luminance","time":6.7,"tval":0},{"panel":"D","series":"Attended luminance","time":6.8,"tval":-0.09},{"panel":"D","series":"Attended luminance","time":6.9,"tval":-0.19},{"panel":"D","series":"Attended luminance","time":7.0,"tval":-0.09},

      {"panel":"E","series":"Gazed luminance","time":-0.5,"tval":0.76},{"panel":"E","series":"Gazed luminance","time":-0.45,"tval":1.24},{"panel":"E","series":"Gazed luminance","time":-0.4,"tval":0.76},{"panel":"E","series":"Gazed luminance","time":-0.3,"tval":-0.38},{"panel":"E","series":"Gazed luminance","time":-0.2,"tval":-0.76},{"panel":"E","series":"Gazed luminance","time":-0.1,"tval":-0.86},{"panel":"E","series":"Gazed luminance","time":0,"tval":-0.67},{"panel":"E","series":"Gazed luminance","time":0.05,"tval":0},{"panel":"E","series":"Gazed luminance","time":0.1,"tval":0.48},{"panel":"E","series":"Gazed luminance","time":0.15,"tval":0.67},{"panel":"E","series":"Gazed luminance","time":0.2,"tval":0.57},{"panel":"E","series":"Gazed luminance","time":0.3,"tval":0.19},{"panel":"E","series":"Gazed luminance","time":0.4,"tval":0},{"panel":"E","series":"Gazed luminance","time":0.5,"tval":0},{"panel":"E","series":"Gazed luminance","time":0.6,"tval":-0.1},{"panel":"E","series":"Gazed luminance","time":0.7,"tval":-0.29},{"panel":"E","series":"Gazed luminance","time":0.8,"tval":-0.48},{"panel":"E","series":"Gazed luminance","time":0.9,"tval":-0.57},{"panel":"E","series":"Gazed luminance","time":1.0,"tval":-0.48},{"panel":"E","series":"Gazed luminance","time":1.1,"tval":-0.38},{"panel":"E","series":"Gazed luminance","time":1.2,"tval":-0.29},{"panel":"E","series":"Gazed luminance","time":1.3,"tval":0},{"panel":"E","series":"Gazed luminance","time":1.4,"tval":0.1},{"panel":"E","series":"Gazed luminance","time":1.5,"tval":-0.29},{"panel":"E","series":"Gazed luminance","time":1.55,"tval":-0.38},{"panel":"E","series":"Gazed luminance","time":1.6,"tval":-0.19},{"panel":"E","series":"Gazed luminance","time":1.7,"tval":0.38},{"panel":"E","series":"Gazed luminance","time":1.8,"tval":0.95},{"panel":"E","series":"Gazed luminance","time":1.9,"tval":1.18},{"panel":"E","series":"Gazed luminance","time":2.0,"tval":1.15},{"panel":"E","series":"Gazed luminance","time":2.1,"tval":0.76},{"panel":"E","series":"Gazed luminance","time":2.2,"tval":0.29},{"panel":"E","series":"Gazed luminance","time":2.25,"tval":0.19},{"panel":"E","series":"Gazed luminance","time":2.3,"tval":0.57},{"panel":"E","series":"Gazed luminance","time":2.4,"tval":1.34},{"panel":"E","series":"Gazed luminance","time":2.5,"tval":1.34},{"panel":"E","series":"Gazed luminance","time":2.6,"tval":1.3},{"panel":"E","series":"Gazed luminance","time":2.7,"tval":1.34},{"panel":"E","series":"Gazed luminance","time":2.8,"tval":1.05},{"panel":"E","series":"Gazed luminance","time":2.9,"tval":0.38},{"panel":"E","series":"Gazed luminance","time":3.0,"tval":-0.57},{"panel":"E","series":"Gazed luminance","time":3.1,"tval":-1.34},{"panel":"E","series":"Gazed luminance","time":3.15,"tval":-1.72},{"panel":"E","series":"Gazed luminance","time":3.2,"tval":-1.62},{"panel":"E","series":"Gazed luminance","time":3.3,"tval":-1.15},{"panel":"E","series":"Gazed luminance","time":3.4,"tval":-0.76},{"panel":"E","series":"Gazed luminance","time":3.5,"tval":-0.29},{"panel":"E","series":"Gazed luminance","time":3.6,"tval":0.19},{"panel":"E","series":"Gazed luminance","time":3.7,"tval":0.76},{"panel":"E","series":"Gazed luminance","time":3.8,"tval":0.99},{"panel":"E","series":"Gazed luminance","time":3.9,"tval":1.05},{"panel":"E","series":"Gazed luminance","time":4.0,"tval":1.05},{"panel":"E","series":"Gazed luminance","time":4.1,"tval":0.86},{"panel":"E","series":"Gazed luminance","time":4.2,"tval":0.38},{"panel":"E","series":"Gazed luminance","time":4.25,"tval":0.19},{"panel":"E","series":"Gazed luminance","time":4.3,"tval":0.29},{"panel":"E","series":"Gazed luminance","time":4.4,"tval":0.76},{"panel":"E","series":"Gazed luminance","time":4.5,"tval":1.24},{"panel":"E","series":"Gazed luminance","time":4.6,"tval":1.53},{"panel":"E","series":"Gazed luminance","time":4.7,"tval":1.34},{"panel":"E","series":"Gazed luminance","time":4.8,"tval":0.95},{"panel":"E","series":"Gazed luminance","time":4.9,"tval":1.24},{"panel":"E","series":"Gazed luminance","time":5.0,"tval":1.72},{"panel":"E","series":"Gazed luminance","time":5.1,"tval":2.2},{"panel":"E","series":"Gazed luminance","time":5.2,"tval":2.1},{"panel":"E","series":"Gazed luminance","time":5.3,"tval":2.29},{"panel":"E","series":"Gazed luminance","time":5.35,"tval":2.58},{"panel":"E","series":"Gazed luminance","time":5.4,"tval":2.29},{"panel":"E","series":"Gazed luminance","time":5.5,"tval":1.53},{"panel":"E","series":"Gazed luminance","time":5.55,"tval":1.34},{"panel":"E","series":"Gazed luminance","time":5.6,"tval":1.72},{"panel":"E","series":"Gazed luminance","time":5.7,"tval":2.48},{"panel":"E","series":"Gazed luminance","time":5.75,"tval":2.77},{"panel":"E","series":"Gazed luminance","time":5.8,"tval":2.48},{"panel":"E","series":"Gazed luminance","time":5.9,"tval":2.29},{"panel":"E","series":"Gazed luminance","time":6.0,"tval":2.1},{"panel":"E","series":"Gazed luminance","time":6.1,"tval":1.91},{"panel":"E","series":"Gazed luminance","time":6.2,"tval":2.29},{"panel":"E","series":"Gazed luminance","time":6.3,"tval":2.67},{"panel":"E","series":"Gazed luminance","time":6.4,"tval":2.87},{"panel":"E","series":"Gazed luminance","time":6.5,"tval":2.29},{"panel":"E","series":"Gazed luminance","time":6.55,"tval":2.01},{"panel":"E","series":"Gazed luminance","time":6.6,"tval":2.1},{"panel":"E","series":"Gazed luminance","time":6.7,"tval":2.29},{"panel":"E","series":"Gazed luminance","time":6.8,"tval":2.67},{"panel":"E","series":"Gazed luminance","time":6.9,"tval":2.96},{"panel":"E","series":"Gazed luminance","time":7.0,"tval":3.25},
      {"panel":"E","series":"Attended luminance","time":-0.5,"tval":1.43},{"panel":"E","series":"Attended luminance","time":-0.45,"tval":1.15},{"panel":"E","series":"Attended luminance","time":-0.4,"tval":0.38},{"panel":"E","series":"Attended luminance","time":-0.3,"tval":-0.19},{"panel":"E","series":"Attended luminance","time":-0.25,"tval":-0.1},{"panel":"E","series":"Attended luminance","time":-0.2,"tval":0.19},{"panel":"E","series":"Attended luminance","time":-0.1,"tval":0.48},{"panel":"E","series":"Attended luminance","time":0,"tval":0.48},{"panel":"E","series":"Attended luminance","time":0.1,"tval":0.38},{"panel":"E","series":"Attended luminance","time":0.2,"tval":0.76},{"panel":"E","series":"Attended luminance","time":0.3,"tval":1.34},{"panel":"E","series":"Attended luminance","time":0.4,"tval":1.62},{"panel":"E","series":"Attended luminance","time":0.45,"tval":1.62},{"panel":"E","series":"Attended luminance","time":0.5,"tval":1.43},{"panel":"E","series":"Attended luminance","time":0.6,"tval":0.95},{"panel":"E","series":"Attended luminance","time":0.7,"tval":0.48},{"panel":"E","series":"Attended luminance","time":0.8,"tval":0.57},{"panel":"E","series":"Attended luminance","time":0.9,"tval":0.95},{"panel":"E","series":"Attended luminance","time":1.0,"tval":1.05},{"panel":"E","series":"Attended luminance","time":1.1,"tval":0.67},{"panel":"E","series":"Attended luminance","time":1.2,"tval":0.57},{"panel":"E","series":"Attended luminance","time":1.3,"tval":0.38},{"panel":"E","series":"Attended luminance","time":1.4,"tval":0.29},{"panel":"E","series":"Attended luminance","time":1.5,"tval":0.19},{"panel":"E","series":"Attended luminance","time":1.6,"tval":0.19},{"panel":"E","series":"Attended luminance","time":1.7,"tval":0.1},{"panel":"E","series":"Attended luminance","time":1.8,"tval":0.04},{"panel":"E","series":"Attended luminance","time":1.9,"tval":-0.1},{"panel":"E","series":"Attended luminance","time":2.0,"tval":0},{"panel":"E","series":"Attended luminance","time":2.1,"tval":0.48},{"panel":"E","series":"Attended luminance","time":2.2,"tval":1.34},{"panel":"E","series":"Attended luminance","time":2.3,"tval":2.01},{"panel":"E","series":"Attended luminance","time":2.4,"tval":2.29},{"panel":"E","series":"Attended luminance","time":2.5,"tval":2.39},{"panel":"E","series":"Attended luminance","time":2.6,"tval":2.67},{"panel":"E","series":"Attended luminance","time":2.7,"tval":3.15},{"panel":"E","series":"Attended luminance","time":2.8,"tval":3.44},{"panel":"E","series":"Attended luminance","time":2.9,"tval":3.15},{"panel":"E","series":"Attended luminance","time":3.0,"tval":3.06},{"panel":"E","series":"Attended luminance","time":3.1,"tval":3.06},{"panel":"E","series":"Attended luminance","time":3.2,"tval":2.96},{"panel":"E","series":"Attended luminance","time":3.3,"tval":2.96},{"panel":"E","series":"Attended luminance","time":3.4,"tval":3.06},{"panel":"E","series":"Attended luminance","time":3.5,"tval":2.77},{"panel":"E","series":"Attended luminance","time":3.6,"tval":2.1},{"panel":"E","series":"Attended luminance","time":3.7,"tval":1.81},{"panel":"E","series":"Attended luminance","time":3.8,"tval":2.2},{"panel":"E","series":"Attended luminance","time":3.9,"tval":2.39},{"panel":"E","series":"Attended luminance","time":4.0,"tval":2.39},{"panel":"E","series":"Attended luminance","time":4.1,"tval":2.2},{"panel":"E","series":"Attended luminance","time":4.2,"tval":1.91},{"panel":"E","series":"Attended luminance","time":4.3,"tval":2.01},{"panel":"E","series":"Attended luminance","time":4.4,"tval":2.1},{"panel":"E","series":"Attended luminance","time":4.5,"tval":2.01},{"panel":"E","series":"Attended luminance","time":4.6,"tval":1.81},{"panel":"E","series":"Attended luminance","time":4.7,"tval":1.72},{"panel":"E","series":"Attended luminance","time":4.8,"tval":1.91},{"panel":"E","series":"Attended luminance","time":4.9,"tval":2.39},{"panel":"E","series":"Attended luminance","time":5.0,"tval":2.87},{"panel":"E","series":"Attended luminance","time":5.1,"tval":3.25},{"panel":"E","series":"Attended luminance","time":5.2,"tval":3.72},{"panel":"E","series":"Attended luminance","time":5.25,"tval":3.92},{"panel":"E","series":"Attended luminance","time":5.3,"tval":3.82},{"panel":"E","series":"Attended luminance","time":5.4,"tval":3.44},{"panel":"E","series":"Attended luminance","time":5.5,"tval":3.25},{"panel":"E","series":"Attended luminance","time":5.6,"tval":3.15},{"panel":"E","series":"Attended luminance","time":5.7,"tval":2.96},{"panel":"E","series":"Attended luminance","time":5.8,"tval":2.87},{"panel":"E","series":"Attended luminance","time":5.9,"tval":2.77},{"panel":"E","series":"Attended luminance","time":6.0,"tval":2.48},{"panel":"E","series":"Attended luminance","time":6.1,"tval":2.39},{"panel":"E","series":"Attended luminance","time":6.2,"tval":2.48},{"panel":"E","series":"Attended luminance","time":6.3,"tval":2.67},{"panel":"E","series":"Attended luminance","time":6.4,"tval":2.77},{"panel":"E","series":"Attended luminance","time":6.5,"tval":2.87},{"panel":"E","series":"Attended luminance","time":6.6,"tval":2.87},{"panel":"E","series":"Attended luminance","time":6.7,"tval":2.67},{"panel":"E","series":"Attended luminance","time":6.8,"tval":2.2},{"panel":"E","series":"Attended luminance","time":6.9,"tval":1.81},{"panel":"E","series":"Attended luminance","time":7.0,"tval":1.43}
    ],
    "bars": [
      {"panel":"A","series":"Attended luminance","start":0.81,"end":5.0},
      {"panel":"B","series":"Attended luminance","start":0.98,"end":7.0},
      {"panel":"B","series":"Gazed luminance","start":1.71,"end":2.38},
      {"panel":"B","series":"Gazed luminance","start":5.95,"end":7.0},
      {"panel":"C","series":"Attended luminance","start":1.86,"end":7.0},
      {"panel":"C","series":"Gazed luminance","start":3.84,"end":6.0},
      {"panel":"C","series":"Gazed luminance","start":6.31,"end":7.0},
      {"panel":"D","series":"Attended luminance","start":1.97,"end":2.5},
      {"panel":"D","series":"Gazed luminance","start":2.37,"end":3.64},
      {"panel":"D","series":"Gazed luminance","start":4.92,"end":5.63},
      {"panel":"D","series":"Gazed luminance","start":6.26,"end":7.0},
      {"panel":"E","series":"Attended luminance","start":2.57,"end":3.59},
      {"panel":"E","series":"Attended luminance","start":4.86,"end":6.85},
      {"panel":"E","series":"Gazed luminance","start":6.76,"end":7.0}
    ]
  },
  "spacing": 42,
  "resolve": {"legend": {"color": "independent"}},
  "hconcat": [
    {
      "spacing": 33,
      "resolve": {"legend": {"color": "independent"}},
      "vconcat": [
        {
          "width": 492, "height": 421,
          "title": {"text": ["Experiment 1:", "Mathôt et al.'s (2013) paradigm"], "offset": -90},
          "layer": [
            {"data": {"name": "lines"}, "transform": [{"filter": "datum.panel === 'A'"}],
             "mark": {"type": "line", "strokeWidth": 4.5},
             "encoding": {
               "x": {"field": "time", "type": "quantitative", "scale": {"domain": [-0.5, 5], "nice": false}, "axis": {"values": [0, 1, 2, 3, 4, 5], "title": "Time from cue (sec)"}},
               "y": {"field": "tval", "type": "quantitative", "scale": {"domain": [-10, 10], "nice": false}, "axis": {"values": [-10, -5, 0, 5, 10], "title": "t value"}},
               "color": {"field": "series", "type": "nominal", "scale": {"domain": ["Gazed luminance", "Attended luminance"], "range": ["#0072BD", "#D95319"]}, "legend": {"title": null}}
             }},
            {"data": {"name": "bars"}, "transform": [{"filter": "datum.panel === 'A' && datum.series === 'Attended luminance'"}],
             "mark": {"type": "rule", "strokeWidth": 4},
             "encoding": {"x": {"field": "start", "type": "quantitative"}, "x2": {"field": "end"}, "y": {"datum": -3}, "color": {"field": "series", "type": "nominal"}}},
            {"data": {"values": [{"letter": "A"}]},
             "mark": {"type": "text", "fontSize": 46, "align": "left", "baseline": "alphabetic", "color": "black"},
             "encoding": {"x": {"datum": -1.586}, "y": {"datum": 12.9}, "text": {"field": "letter"}}}
          ]
        },
        {
          "width": 492, "height": 421,
          "title": {"text": ["Experiment 2:", "Attend-to-Location"], "offset": -78},
          "layer": [
            {"data": {"name": "lines"}, "transform": [{"filter": "datum.panel === 'B'"}],
             "mark": {"type": "line", "strokeWidth": 4.5},
             "encoding": {
               "x": {"field": "time", "type": "quantitative", "scale": {"domain": [-0.5, 7], "nice": false}, "axis": {"values": [0, 2, 4, 6], "title": "Time from cue (sec)"}},
               "y": {"field": "tval", "type": "quantitative", "scale": {"domain": [-10, 10], "nice": false}, "axis": {"values": [-10, -5, 0, 5, 10], "title": "t value"}},
               "color": {"field": "series", "type": "nominal", "scale": {"domain": ["Gazed luminance", "Attended luminance"], "range": ["#0072BD", "#D95319"]}, "legend": {"title": null}}
             }},
            {"data": {"name": "bars"}, "transform": [{"filter": "datum.panel === 'B' && datum.series === 'Attended luminance'"}],
             "mark": {"type": "rule", "strokeWidth": 4},
             "encoding": {"x": {"field": "start", "type": "quantitative"}, "x2": {"field": "end"}, "y": {"datum": -3}, "color": {"field": "series", "type": "nominal"}}},
            {"data": {"name": "bars"}, "transform": [{"filter": "datum.panel === 'B' && datum.series === 'Gazed luminance'"}],
             "mark": {"type": "rule", "strokeWidth": 4},
             "encoding": {"x": {"field": "start", "type": "quantitative"}, "x2": {"field": "end"}, "y": {"datum": -4}, "color": {"field": "series", "type": "nominal"}}},
            {"data": {"values": [{"letter": "B"}]},
             "mark": {"type": "text", "fontSize": 46, "align": "left", "baseline": "alphabetic", "color": "black"},
             "encoding": {"x": {"datum": -2.0}, "y": {"datum": 12.25}, "text": {"field": "letter"}}}
          ]
        }
      ]
    },
    {
      "spacing": 33,
      "resolve": {"legend": {"color": "independent"}},
      "vconcat": [
        {
          "width": 498, "height": 421,
          "title": {"text": ["Experiment 2:", "Attend-to-Gender"], "offset": -90},
          "layer": [
            {"data": {"name": "lines"}, "transform": [{"filter": "datum.panel === 'C'"}],
             "mark": {"type": "line", "strokeWidth": 4.5},
             "encoding": {
               "x": {"field": "time", "type": "quantitative", "scale": {"domain": [-0.5, 7], "nice": false}, "axis": {"values": [0, 2, 4, 6], "title": "Time from cue (sec)"}},
               "y": {"field": "tval", "type": "quantitative", "scale": {"domain": [-10, 10], "nice": false}, "axis": {"values": [-10, -5, 0, 5, 10], "title": "t value"}},
               "color": {"field": "series", "type": "nominal", "scale": {"domain": ["Gazed luminance", "Attended luminance"], "range": ["#0072BD", "#D95319"]}, "legend": {"title": null}}
             }},
            {"data": {"name": "bars"}, "transform": [{"filter": "datum.panel === 'C' && datum.series === 'Attended luminance'"}],
             "mark": {"type": "rule", "strokeWidth": 4},
             "encoding": {"x": {"field": "start", "type": "quantitative"}, "x2": {"field": "end"}, "y": {"datum": -3}, "color": {"field": "series", "type": "nominal"}}},
            {"data": {"name": "bars"}, "transform": [{"filter": "datum.panel === 'C' && datum.series === 'Gazed luminance'"}],
             "mark": {"type": "rule", "strokeWidth": 4},
             "encoding": {"x": {"field": "start", "type": "quantitative"}, "x2": {"field": "end"}, "y": {"datum": -4}, "color": {"field": "series", "type": "nominal"}}},
            {"data": {"values": [{"letter": "C"}]},
             "mark": {"type": "text", "fontSize": 46, "align": "left", "baseline": "alphabetic", "color": "black"},
             "encoding": {"x": {"datum": -1.72}, "y": {"datum": 12.9}, "text": {"field": "letter"}}}
          ]
        },
        {
          "width": 498, "height": 421,
          "title": {"text": ["Experiment 3:", "Mixed with diotic trials"], "offset": -78},
          "layer": [
            {"data": {"name": "lines"}, "transform": [{"filter": "datum.panel === 'D'"}],
             "mark": {"type": "line", "strokeWidth": 4.5},
             "encoding": {
               "x": {"field": "time", "type": "quantitative", "scale": {"domain": [-0.5, 7], "nice": false}, "axis": {"values": [0, 2, 4, 6], "title": "Time from cue (sec)"}},
               "y": {"field": "tval", "type": "quantitative", "scale": {"domain": [-10, 10], "nice": false}, "axis": {"values": [-10, -5, 0, 5, 10], "title": "t value"}},
               "color": {"field": "series", "type": "nominal", "scale": {"domain": ["Gazed luminance", "Attended luminance"], "range": ["#0072BD", "#D95319"]}, "legend": {"title": null}}
             }},
            {"data": {"name": "bars"}, "transform": [{"filter": "datum.panel === 'D' && datum.series === 'Attended luminance'"}],
             "mark": {"type": "rule", "strokeWidth": 4},
             "encoding": {"x": {"field": "start", "type": "quantitative"}, "x2": {"field": "end"}, "y": {"datum": -3}, "color": {"field": "series", "type": "nominal"}}},
            {"data": {"name": "bars"}, "transform": [{"filter": "datum.panel === 'D' && datum.series === 'Gazed luminance'"}],
             "mark": {"type": "rule", "strokeWidth": 4},
             "encoding": {"x": {"field": "start", "type": "quantitative"}, "x2": {"field": "end"}, "y": {"datum": -4}, "color": {"field": "series", "type": "nominal"}}},
            {"data": {"values": [{"letter": "D"}]},
             "mark": {"type": "text", "fontSize": 46, "align": "left", "baseline": "alphabetic", "color": "black"},
             "encoding": {"x": {"datum": -1.72}, "y": {"datum": 12.25}, "text": {"field": "letter"}}}
          ]
        },
        {
          "width": 498, "height": 421,
          "title": {"text": ["Experiment 4:", "Loudspeakers"], "offset": -73},
          "layer": [
            {"data": {"name": "lines"}, "transform": [{"filter": "datum.panel === 'E'"}],
             "mark": {"type": "line", "strokeWidth": 4.5},
             "encoding": {
               "x": {"field": "time", "type": "quantitative", "scale": {"domain": [-0.5, 7], "nice": false}, "axis": {"values": [0, 2, 4, 6], "title": "Time from cue (sec)"}},
               "y": {"field": "tval", "type": "quantitative", "scale": {"domain": [-10, 10], "nice": false}, "axis": {"values": [-10, -5, 0, 5, 10], "title": "t value"}},
               "color": {"field": "series", "type": "nominal", "scale": {"domain": ["Gazed luminance", "Attended luminance"], "range": ["#0072BD", "#D95319"]}, "legend": {"title": null}}
             }},
            {"data": {"name": "bars"}, "transform": [{"filter": "datum.panel === 'E' && datum.series === 'Attended luminance'"}],
             "mark": {"type": "rule", "strokeWidth": 4},
             "encoding": {"x": {"field": "start", "type": "quantitative"}, "x2": {"field": "end"}, "y": {"datum": -3}, "color": {"field": "series", "type": "nominal"}}},
            {"data": {"name": "bars"}, "transform": [{"filter": "datum.panel === 'E' && datum.series === 'Gazed luminance'"}],
             "mark": {"type": "rule", "strokeWidth": 4},
             "encoding": {"x": {"field": "start", "type": "quantitative"}, "x2": {"field": "end"}, "y": {"datum": -4}, "color": {"field": "series", "type": "nominal"}}},
            {"data": {"values": [{"letter": "E"}]},
             "mark": {"type": "text", "fontSize": 46, "align": "left", "baseline": "alphabetic", "color": "black"},
             "encoding": {"x": {"datum": -1.70}, "y": {"datum": 12.05}, "text": {"field": "letter"}}}
          ]
        }
      ]
    }
  ],
  "config": {
    "font": "Liberation Sans",
    "view": {"stroke": null},
    "axis": {
      "grid": false, "format": "d",
      "domainColor": "#262626", "domainWidth": 1.3,
      "tickColor": "#262626", "tickWidth": 1.3, "tickSize": -6,
      "labelFontSize": 29, "labelColor": "#262626", "labelPadding": 21,
      "titleFontSize": 34.5, "titleFontWeight": "normal", "titleColor": "#262626", "titlePadding": 9
    },
    "axisY": {"labelPadding": 20, "titlePadding": 2},
    "title": {"fontSize": 34, "fontWeight": "bold", "lineHeight": 44, "color": "black", "anchor": "middle", "frame": "group"},
    "legend": {
      "orient": "bottom-left", "offset": 24, "padding": 0,
      "symbolType": "stroke", "symbolStrokeWidth": 8, "symbolSize": 4356, "symbolOffset": -5,
      "labelFontSize": 28, "labelColor": "black", "labelOffset": 4, "labelLimit": 400,
      "clipHeight": 28, "rowPadding": 7
    }
  }
}
